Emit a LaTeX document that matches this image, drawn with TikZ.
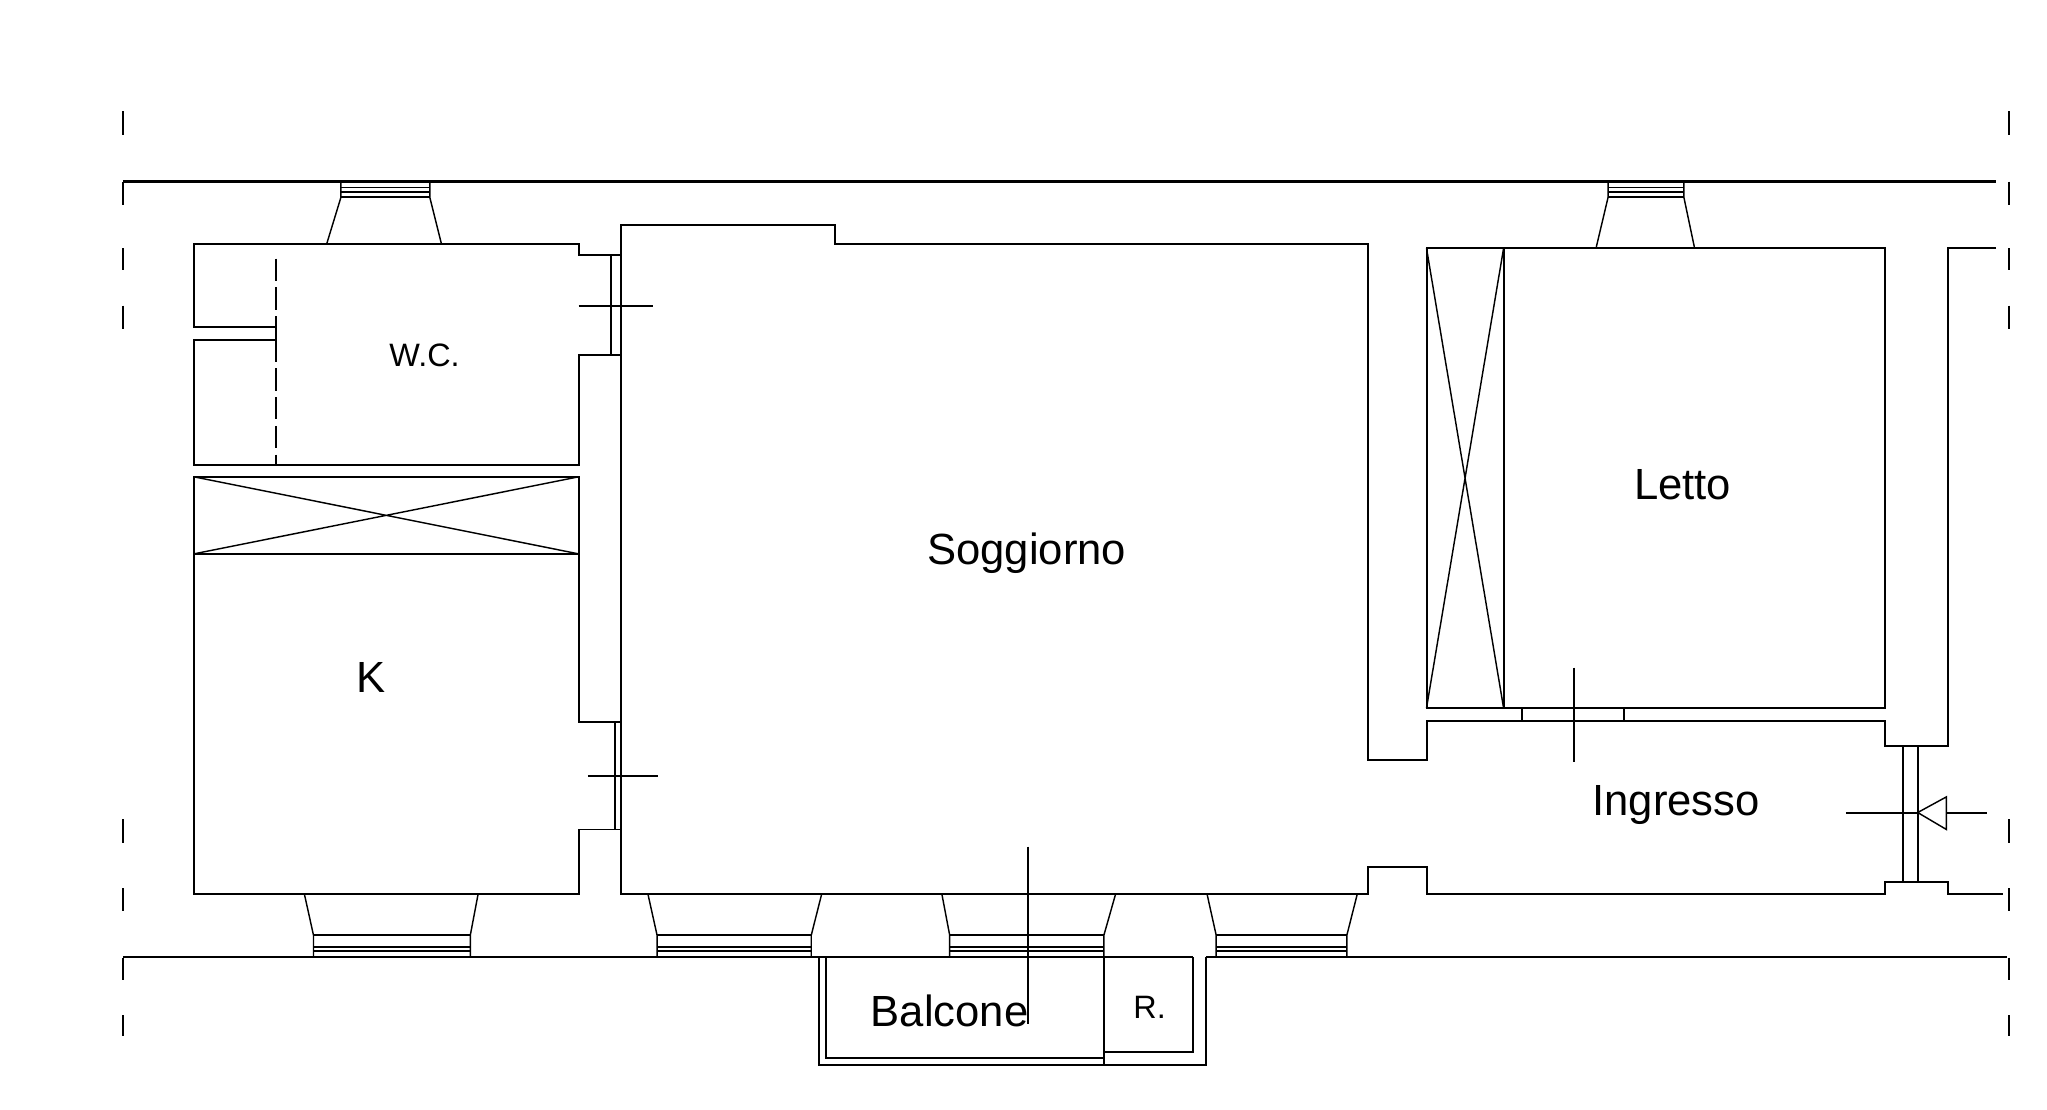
\documentclass[tikz,border=0pt]{standalone}
\usepackage{fontspec}
\setmainfont{Liberation Sans}
\tikzset{
  wall/.style={draw=black,line width=0.75pt,line join=miter},
  thin wall/.style={draw=black,line width=0.55pt},
  bold wall/.style={draw=black,line width=0.9pt},
  room/.style={font=\fontsize{16.7}{20}\selectfont,inner sep=0pt,text=black},
  small room/.style={font=\fontsize{12.4}{15}\selectfont,inner sep=0pt,text=black},
}
\begin{document}
\begin{tikzpicture}[x=0.5pt,y=-0.5pt]
\useasboundingbox (0,0) rectangle (1567,849.7);
\fill[white] (0,0) rectangle (1567,849.7);
% axis ticks
\foreach \tx in {94,1538}
  \foreach \ya/\yb in {85/103,139/157,190/207,234/252,627/645,680/697,733/750,777/793}
    \draw[wall] (\tx,\ya) -- (\tx,\yb);
% outer lines
\draw[bold wall] (94,139) -- (1528,139);
\draw[wall] (94,732.6) -- (913,732.6);
\draw[wall] (923,732.6) -- (1536,732.6);
% wc
\draw[wall] (475.4,195) -- (443,195) -- (443,187) -- (148.4,187) -- (148.4,250) -- (211,250) -- (211,260) -- (148.4,260) -- (148.4,356) -- (443,356) -- (443,272) -- (475.4,272);
\draw[wall,dash pattern=on 8.5pt off 2.5pt] (211,198) -- (211,250);
\draw[wall,dash pattern=on 8.5pt off 2.5pt] (211,260) -- (211,356);
\draw[wall] (468,195) -- (468,272);
\draw[wall] (443,234) -- (500,234);
% kitchen
\draw[wall] (475.4,553) -- (443,553) -- (443,365) -- (148.4,365) -- (148.4,684.4) -- (443,684.4) -- (443,635) -- (475.4,635);
\draw[wall] (148.4,424) -- (443,424);
\draw[thin wall] (148.4,365) -- (443,424) (148.4,424) -- (443,365);
\draw[wall] (471,553) -- (471,635);
\draw[wall] (450,594) -- (504,594);
% soggiorno and ingresso outline
\draw[wall] (1528,190) -- (1491,190) -- (1491,571) -- (1443,571) -- (1443,552) -- (1092,552) -- (1092,582) -- (1047,582) -- (1047,187) -- (639,187) -- (639,172) -- (475.4,172) -- (475.4,684.4) -- (1047,684.4) -- (1047,664) -- (1092,664) -- (1092,684.4) -- (1443,684.4) -- (1443,675) -- (1491,675) -- (1491,684.4) -- (1533,684.4);
% letto
\draw[wall] (1092,190) rectangle (1443,542);
\draw[wall] (1151,190) -- (1151,542);
\draw[thin wall] (1092,190) -- (1151,542) (1151,190) -- (1092,542);
\draw[wall] (1165,542) -- (1165,552) (1243,542) -- (1243,552);
\draw[wall] (1205,511) -- (1205,583);
% entrance door
\draw[wall] (1457,571) -- (1457,675);
\draw[wall] (1468,571) -- (1468,675);
\draw[wall] (1413,622) -- (1468,622);
\draw[thin wall] (1468,622) -- (1490,610) -- (1490,635) -- cycle;
\draw[wall] (1490,622) -- (1521,622);
% top windows
\foreach \a/\b/\c/\d/\e in {250/261/329/338/187,1222/1231/1289/1297/189}{
  \draw[thin wall] (\a,\e) -- (\b,151) -- (\b,139);
  \draw[thin wall] (\d,\e) -- (\c,151) -- (\c,139);
  \draw[thin wall] (\b,143.6) -- (\c,143.6);
  \draw[wall] (\b,147) -- (\c,147);
  \draw[wall] (\b,151) -- (\c,151);
}
% bottom windows
\foreach \a/\b/\c/\d in {233/240/360/366,496/503/621/629,721/727/845/854,924/931/1031/1039}{
  \draw[thin wall] (\a,684.4) -- (\b,716) -- (\b,732.6);
  \draw[thin wall] (\d,684.4) -- (\c,716) -- (\c,732.6);
  \draw[wall] (\b,716) -- (\c,716);
  \draw[thin wall] (\b,725) -- (\c,725);
  \draw[wall] (\b,728) -- (\c,728);
}
% balcony
\draw[wall] (627,732.6) -- (627,815) -- (923,815) -- (923,732.6);
\draw[wall] (632,732.6) -- (632,810) -- (845,810);
\draw[wall] (845,732.6) -- (845,815);
\draw[wall] (845,805) -- (913,805) -- (913,732.6);
\draw[wall] (787,648) -- (787,784);
% labels
\node[small room] (wc) at (325,272) {W.C.};
\node[room] (k) at (284,519) {K};
\node[room] (sogg) at (786,423.5) {Soggiorno};
\node[room] (letto) at (1288,371) {Letto};
\node[room] (ingr) at (1283,616.5) {Ingresso};
\node[room] (balc) at (727,773.5) {Balcone};
\node[small room] (rip) at (880,771) {R.};
\end{tikzpicture}
\end{document}
